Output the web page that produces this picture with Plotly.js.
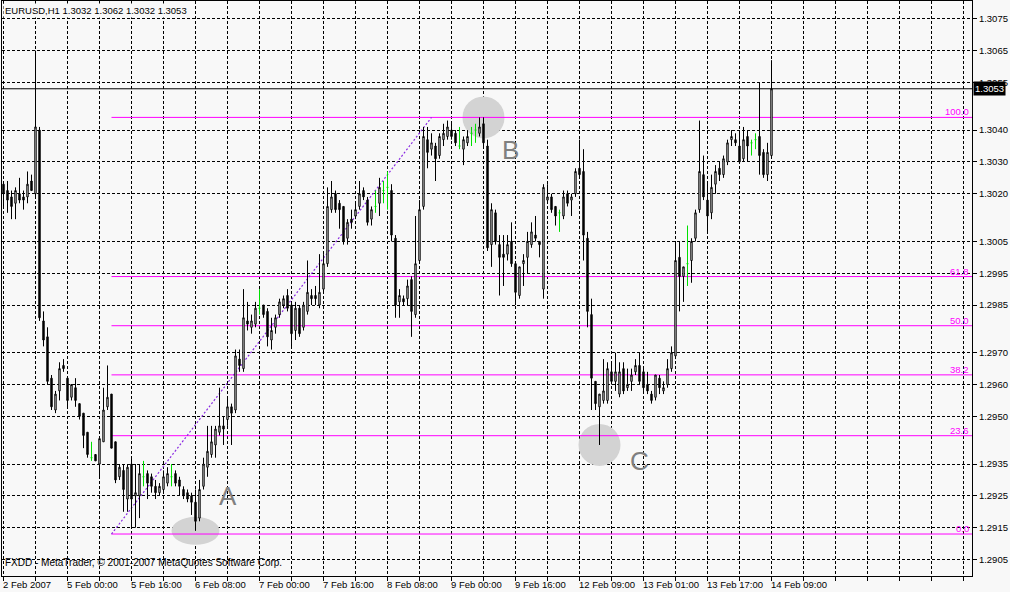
<!DOCTYPE html>
<html><head><meta charset="utf-8">
<script src="https://cdn.plot.ly/plotly-3.0.1.min.js"></script>
<style>html,body{margin:0;padding:0;background:#f8f8f8;}#chart{width:1010px;height:592px;}</style>
</head><body><div id="chart"></div>
<script>
// ---- data (EURUSD H1, one bar per hour, index 0 = first visible bar) ----
const chartTitle = "EURUSD,H1";
const openP = [
1.3023,1.3021,1.3019,1.3017,1.3020,1.3019,1.3019,1.3024,1.3020,1.3040,
1.2980,1.2975,1.2962,1.2952,1.2958,1.2966,1.2962,1.2956,1.2959,1.2954,
1.2951,1.2945,1.2937,1.2938,1.2935,1.2942,1.2953,1.2957,1.2942,1.2931,
1.2933,1.2924,1.2935,1.2925,1.2925,1.2931,1.2932,1.2931,1.2928,1.2926,
1.2927,1.2929,1.2931,1.2932,1.2930,1.2927,1.2926,1.2925,1.2923,1.2918,
1.2928,1.2934,1.2938,1.2941,1.2945,1.2947,1.2949,1.2953,1.2952,1.2968,
1.2965,1.2980,1.2978,1.2979,1.2984,1.2985,1.2983,1.2974,1.2978,1.2982,
1.2985,1.2988,1.2985,1.2977,1.2984,1.2978,1.2983,1.2988,1.2988,1.2985,
1.2990,1.2998,1.3015,1.3020,1.3017,1.3016,1.3006,1.3012,1.3013,1.3016,
1.3021,1.3018,1.3012,1.3016,1.3017,1.3021,1.3022,1.3021,1.3006,1.2986,
1.2987,1.2987,1.2993,1.2982,1.2999,1.3016,1.3037,1.3034,1.3035,1.3032,
1.3037,1.3038,1.3040,1.3039,1.3035,1.3034,1.3036,1.3039,1.3040,1.3039,
1.3042,1.3035,1.3004,1.3014,1.3004,1.3001,1.3001,1.3005,1.2998,1.2988,
1.2998,1.3000,1.3004,1.3007,1.3005,1.2990,1.3018,1.3019,1.3016,1.3014,
1.3013,1.3020,1.3018,1.3020,1.3028,1.3027,1.3006,1.2982,1.2961,1.2953,
1.2955,1.2955,1.2964,1.2961,1.2957,1.2965,1.2959,1.2961,1.2964,1.2966,
1.2964,1.2960,1.2957,1.2956,1.2962,1.2958,1.2960,1.2965,1.2969,1.3000,
1.2994,1.2998,1.2999,1.3006,1.3015,1.3026,1.3018,1.3014,1.3023,1.3028,
1.3026,1.3030,1.3037,1.3037,1.3035,1.3031,1.3038,1.3036,1.3037,1.3038,
1.3033,1.3026,1.3032];
const highP = [
1.3024,1.3024,1.3021,1.3022,1.3025,1.3021,1.3027,1.3026,1.3065,1.3041,
1.2983,1.2978,1.2963,1.2958,1.2967,1.2968,1.2962,1.2960,1.2962,1.2954,
1.2951,1.2945,1.2942,1.2938,1.2943,1.2959,1.2966,1.2957,1.2942,1.2935,
1.2935,1.2935,1.2937,1.2935,1.2935,1.2936,1.2933,1.2932,1.2930,1.2929,
1.2933,1.2934,1.2935,1.2933,1.2931,1.2928,1.2927,1.2926,1.2927,1.2930,
1.2937,1.2947,1.2947,1.2947,1.2959,1.2950,1.2956,1.2954,1.2971,1.2971,
1.2990,1.2986,1.2982,1.2986,1.2990,1.2985,1.2984,1.2981,1.2982,1.2987,
1.2988,1.2990,1.2986,1.2986,1.2985,1.2986,1.2999,1.2990,1.2991,1.3001,
1.3001,1.3022,1.3024,1.3021,1.3018,1.3016,1.3012,1.3015,1.3017,1.3024,
1.3022,1.3019,1.3016,1.3021,1.3025,1.3024,1.3027,1.3023,1.3007,1.2990,
1.2988,1.2993,1.2994,1.3013,1.3018,1.3041,1.3041,1.3039,1.3036,1.3039,
1.3042,1.3043,1.3042,1.3040,1.3041,1.3038,1.3040,1.3041,1.3042,1.3044,
1.3044,1.3037,1.3017,1.3015,1.3007,1.3007,1.3007,1.3011,1.2998,1.2997,
1.3001,1.3008,1.3011,1.3013,1.3005,1.3023,1.3023,1.3020,1.3016,1.3015,
1.3021,1.3021,1.3020,1.3028,1.3037,1.3034,1.3008,1.2987,1.2961,1.2957,
1.2968,1.2967,1.2967,1.2970,1.2967,1.2967,1.2965,1.2965,1.2968,1.2970,
1.2965,1.2964,1.2958,1.2963,1.2963,1.2961,1.2968,1.2972,1.3005,1.3005,
1.2997,1.3010,1.3006,1.3015,1.3043,1.3032,1.3024,1.3026,1.3029,1.3030,
1.3032,1.3037,1.3040,1.3039,1.3040,1.3041,1.3040,1.3037,1.3039,1.3055,
1.3034,1.3036,1.3062];
const lowP = [
1.3016,1.3014,1.3012,1.3012,1.3017,1.3015,1.3017,1.3021,1.3019,1.2980,
1.2972,1.2960,1.2952,1.2951,1.2955,1.2964,1.2953,1.2955,1.2953,1.2949,
1.2940,1.2937,1.2936,1.2936,1.2931,1.2942,1.2952,1.2940,1.2929,1.2930,
1.2920,1.2920,1.2915,1.2915,1.2918,1.2928,1.2924,1.2926,1.2924,1.2925,
1.2926,1.2928,1.2928,1.2928,1.2925,1.2924,1.2923,1.2919,1.2914,1.2917,
1.2927,1.2931,1.2937,1.2937,1.2944,1.2941,1.2947,1.2941,1.2951,1.2964,
1.2964,1.2977,1.2976,1.2978,1.2982,1.2981,1.2972,1.2971,1.2976,1.2981,
1.2984,1.2983,1.2972,1.2974,1.2975,1.2977,1.2982,1.2985,1.2985,1.2984,
1.2989,1.2997,1.3014,1.3014,1.3009,1.3004,1.3004,1.3009,1.3012,1.3015,
1.3018,1.3010,1.3010,1.3014,1.3013,1.3017,1.3015,1.3005,1.2981,1.2981,
1.2985,1.2985,1.2975,1.2981,1.2998,1.3015,1.3028,1.3032,1.3024,1.3031,
1.3035,1.3037,1.3037,1.3035,1.3034,1.3029,1.3035,1.3035,1.3036,1.3038,
1.3035,1.3002,1.2997,1.3004,1.2988,1.2991,1.2999,1.2997,1.2985,1.2987,
1.2991,1.2995,1.3003,1.3005,1.3000,1.2987,1.3017,1.3014,1.3010,1.3008,
1.3012,1.3016,1.3013,1.3019,1.3025,1.2999,1.2978,1.2952,1.2952,1.2941,
1.2954,1.2954,1.2960,1.2958,1.2956,1.2957,1.2958,1.2958,1.2963,1.2960,
1.2958,1.2957,1.2954,1.2955,1.2957,1.2957,1.2959,1.2964,1.2968,1.2983,
1.2986,1.2991,1.2992,1.3005,1.3014,1.3018,1.3008,1.3012,1.3020,1.3024,
1.3025,1.3029,1.3035,1.3035,1.3030,1.3030,1.3030,1.3032,1.3034,1.3026,
1.3025,1.3024,1.3032];
const closeP = [
1.3020,1.3018,1.3016,1.3021,1.3018,1.3018,1.3023,1.3021,1.3041,1.2981,
1.2974,1.2961,1.2953,1.2957,1.2965,1.2965,1.2955,1.2960,1.2955,1.2950,
1.2944,1.2938,1.2937,1.2936,1.2943,1.2952,1.2956,1.2940,1.2930,1.2934,
1.2927,1.2934,1.2924,1.2926,1.2932,1.2931,1.2929,1.2928,1.2926,1.2928,
1.2931,1.2932,1.2931,1.2929,1.2928,1.2925,1.2924,1.2923,1.2917,1.2927,
1.2935,1.2939,1.2942,1.2946,1.2947,1.2946,1.2953,1.2951,1.2969,1.2966,
1.2981,1.2979,1.2980,1.2984,1.2984,1.2982,1.2975,1.2977,1.2981,1.2986,
1.2987,1.2984,1.2976,1.2984,1.2976,1.2985,1.2989,1.2987,1.2987,1.2989,
1.2998,1.3016,1.3019,1.3015,1.3015,1.3005,1.3011,1.3011,1.3015,1.3020,
1.3019,1.3011,1.3015,1.3016,1.3022,1.3021,1.3022,1.3007,1.2985,1.2988,
1.2986,1.2991,1.2983,1.2998,1.3015,1.3038,1.3033,1.3036,1.3031,1.3038,
1.3039,1.3041,1.3038,1.3036,1.3035,1.3037,1.3038,1.3039,1.3040,1.3041,
1.3036,1.3003,1.3015,1.3005,1.3000,1.3000,1.3004,1.2998,1.2989,1.2997,
1.2999,1.3005,1.3008,1.3006,1.3004,1.3022,1.3019,1.3015,1.3013,1.3014,
1.3019,1.3017,1.3019,1.3027,1.3026,1.3007,1.2983,1.2962,1.2954,1.2957,
1.2958,1.2965,1.2961,1.2964,1.2964,1.2958,1.2960,1.2963,1.2966,1.2961,
1.2959,1.2958,1.2955,1.2963,1.2959,1.2959,1.2965,1.2970,1.2999,1.2994,
1.2997,1.2998,1.3005,1.3014,1.3027,1.3019,1.3013,1.3022,1.3027,1.3026,
1.3031,1.3036,1.3038,1.3036,1.3030,1.3037,1.3035,1.3036,1.3037,1.3032,
1.3026,1.3033,1.3053];

const timeTickBars = [0,16,32,48,64,80,96,112,128,144,160,176,192];
const timeTickLabels = ["2 Feb 2007","5 Feb 00:00","5 Feb 16:00","6 Feb 08:00","7 Feb 00:00",
  "7 Feb 16:00","8 Feb 08:00","9 Feb 00:00","9 Feb 16:00","12 Feb 09:00","13 Feb 01:00",
  "13 Feb 17:00","14 Feb 09:00"];
const priceTicks = [1.2905,1.2915,1.2925,1.2935,1.2950,1.2960,1.2970,1.2985,1.2995,
  1.3005,1.3020,1.3030,1.3040,1.3055,1.3065,1.3075];

const fibLevels = [0, 23.6, 38.2, 50.0, 61.8, 100.0];
const fibAnchorBars = [27, 107];
const fibAnchorPrices = [1.2913, 1.3044];

const markLabels = ["A", "B", "C"];
const markBars = [48, 120, 149];
const markPrices = [1.2914, 1.3044, 1.2941];

const copyright = "FXDD - MetaTrader, \u00a9 2001-2007 MetaQuotes Software Corp.";

// ---- build ----
const FONT = "Liberation Sans, Arial, sans-serif";
const xRange = [-0.375, 242.125];
const yRange = [1.28998, 1.30806];
const bars = openP.map((_, i) => i);
const last = bars.length - 1;

function pick(cond) {
  const idx = bars.filter(cond);
  return {
    x: idx, open: idx.map(i => openP[i]), high: idx.map(i => highP[i]),
    low: idx.map(i => lowP[i]), close: idx.map(i => closeP[i])
  };
}
const normal = pick(i => openP[i] !== closeP[i]);
const doji = pick(i => openP[i] === closeP[i]);

const traces = [
  Object.assign({
    type: 'candlestick', whiskerwidth: 0, hoverinfo: 'skip', showlegend: false,
    increasing: {line: {color: '#000000', width: 1}, fillcolor: '#ffffff'},
    decreasing: {line: {color: '#000000', width: 1}, fillcolor: '#000000'}
  }, normal),
  Object.assign({
    type: 'candlestick', whiskerwidth: 0, hoverinfo: 'skip', showlegend: false,
    increasing: {line: {color: '#00e000', width: 1}, fillcolor: '#00e000'},
    decreasing: {line: {color: '#00e000', width: 1}, fillcolor: '#00e000'}
  }, doji)
];

const gridTicks = [];
for (let b = 0; b <= 240; b += 8) gridTicks.push(b);

const shapes = [];
const annotations = [];
// marked points (grey ellipses)
const ellipseR = [[24, 14], [21, 21], [21, 21]];
markBars.forEach((b, k) => {
  shapes.push({type: 'circle', layer: 'between', xref: 'x', yref: 'y',
    xsizemode: 'pixel', ysizemode: 'pixel', xanchor: b, yanchor: markPrices[k],
    x0: -ellipseR[k][0], x1: ellipseR[k][0], y0: -ellipseR[k][1], y1: ellipseR[k][1],
    fillcolor: '#d3d3d3', line: {width: 0}});
});
// fibonacci levels
const fibRange = fibAnchorPrices[1] - fibAnchorPrices[0];
fibLevels.forEach(lv => {
  const y = fibAnchorPrices[0] + fibRange * lv / 100;
  shapes.push({type: 'line', layer: 'between', xref: 'x', yref: 'y',
    x0: fibAnchorBars[0], x1: xRange[1], y0: y, y1: y,
    line: {color: '#ff00ff', width: 1}});
  annotations.push({xref: 'paper', yref: 'y', x: 1, y: y, xanchor: 'right', yanchor: 'bottom',
    xshift: -1, yshift: -2, showarrow: false, text: lv.toFixed(1),
    font: {family: FONT, size: 9.5, color: '#ff00ff'}});
});
// fibo trend line
shapes.push({type: 'line', layer: 'between', xref: 'x', yref: 'y',
  x0: fibAnchorBars[0], x1: fibAnchorBars[1], y0: fibAnchorPrices[0], y1: fibAnchorPrices[1],
  line: {color: '#8a2be2', width: 1.2, dash: '2px,2px'}});
// current price line
shapes.push({type: 'line', layer: 'above', xref: 'paper', yref: 'y', x0: 0, x1: 1,
  y0: closeP[last], y1: closeP[last], line: {color: '#000000', width: 1}});

// letters
const letterShift = [[32, 35], [27, -33], [40, -16]];
markBars.forEach((b, k) => {
  annotations.push({xref: 'x', yref: 'y', x: b, y: markPrices[k], showarrow: false,
    xshift: letterShift[k][0], yshift: letterShift[k][1], text: markLabels[k],
    font: {family: FONT, size: 26, color: '#808080'}});
});
// time labels
timeTickBars.forEach((b, k) => {
  annotations.push({xref: 'x', yref: 'paper', x: b, y: 0, xanchor: 'left', yanchor: 'top',
    xshift: -3, yshift: -1, showarrow: false, text: timeTickLabels[k],
    font: {family: FONT, size: 9.5, color: '#000000'}});
});
// header
annotations.push({xref: 'paper', yref: 'paper', x: 0, y: 1, xanchor: 'left', yanchor: 'top',
  xshift: 1, yshift: -2, showarrow: false, bgcolor: '#f8f8f8',
  text: chartTitle + ' ' + [openP[last], highP[last], lowP[last], closeP[last]].map(v => v.toFixed(4)).join(' '),
  font: {family: FONT, size: 9.5, color: '#000000'}});
// copyright
annotations.push({xref: 'paper', yref: 'paper', x: 0, y: 0, xanchor: 'left', yanchor: 'bottom',
  xshift: 1, yshift: 6, showarrow: false, text: copyright,
  font: {family: FONT, size: 10, color: '#000000'}});
// current price label
annotations.push({xref: 'paper', yref: 'y', x: 1, y: closeP[last], xanchor: 'left', yanchor: 'middle',
  xshift: 1, showarrow: false, text: closeP[last].toFixed(4), bgcolor: '#000000', borderpad: 1,
  font: {family: FONT, size: 9.5, color: '#ffffff'}});

const layout = {
  width: 1010, height: 592,
  margin: {l: 2, r: 38, t: 1, b: 16, pad: 0},
  paper_bgcolor: '#f8f8f8', plot_bgcolor: '#f8f8f8',
  showlegend: false, boxgap: 0.5,
  xaxis: {type: 'linear', range: xRange, fixedrange: true, rangeslider: {visible: false},
    tickmode: 'array', tickvals: gridTicks, showticklabels: false,
    ticks: 'outside', ticklen: 4, tickcolor: '#000000', tickwidth: 1,
    showgrid: true, gridcolor: '#000000', gridwidth: 1, griddash: '3px,2px',
    showline: true, linecolor: '#000000', linewidth: 1, mirror: true, zeroline: false},
  yaxis: {range: yRange, side: 'right', fixedrange: true,
    tickmode: 'array', tickvals: priceTicks, tickformat: '.4f',
    ticks: 'outside', ticklen: 4, tickcolor: '#000000', tickwidth: 1,
    tickfont: {family: FONT, size: 9.5, color: '#000000'},
    showgrid: true, gridcolor: '#000000', gridwidth: 1, griddash: '3px,2px',
    showline: true, linecolor: '#000000', linewidth: 1, mirror: true, zeroline: false},
  shapes: shapes, annotations: annotations
};

Plotly.newPlot('chart', traces, layout, {staticPlot: true, displayModeBar: false});
</script></body></html>
